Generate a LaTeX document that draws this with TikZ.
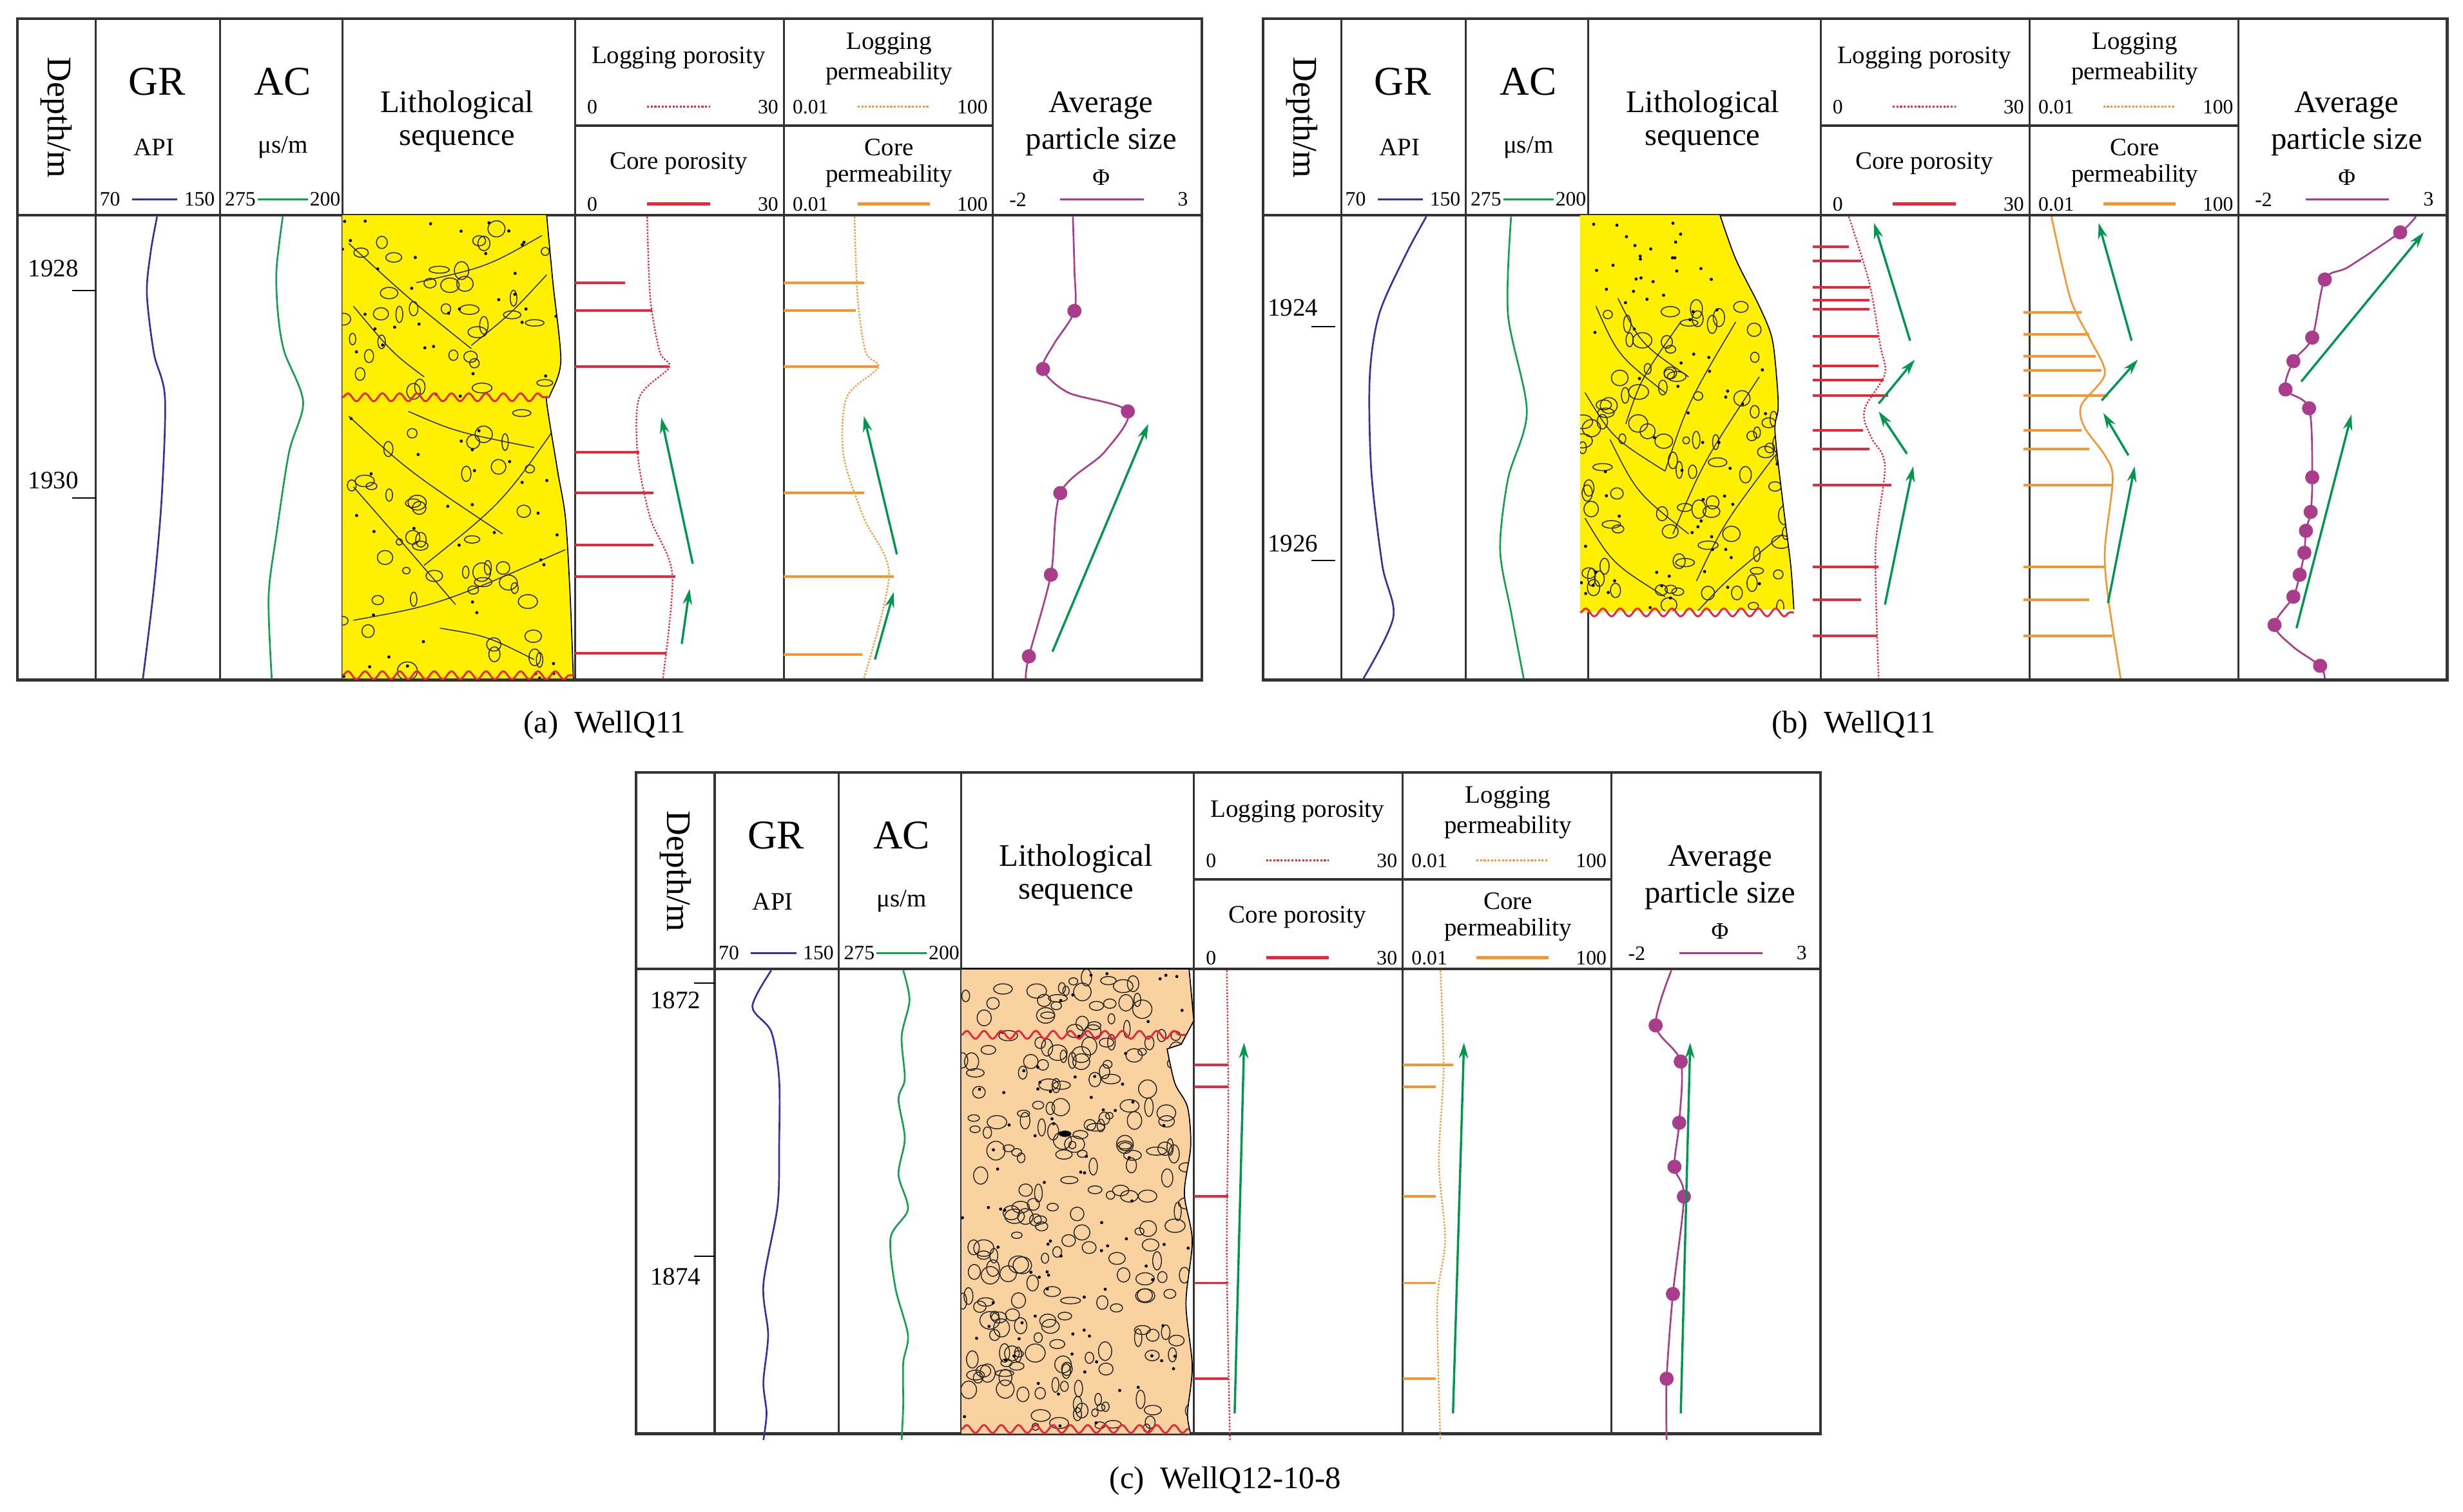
\documentclass[tikz,border=0pt]{standalone}
\usepackage{fontspec}
\setmainfont{Liberation Serif}
\newfontfamily\wellfont{Liberation Serif}
\usetikzlibrary{arrows.meta,decorations.pathmorphing}
\definecolor{grb}{RGB}{50,50,160}
\definecolor{acg}{RGB}{20,160,80}
\definecolor{por}{RGB}{230,40,60}
\definecolor{prm}{RGB}{245,150,50}
\definecolor{pur}{RGB}{170,60,140}
\definecolor{arg}{RGB}{0,150,80}
\definecolor{ylw}{RGB}{255,240,0}
\definecolor{tan}{RGB}{250,210,160}
\newcommand{\fs}[1]{\wellfont\fontsize{#1}{#1}\selectfont}
\newcommand{\wellframe}[2]{%
\begin{scope}[shift={(#1,#2)}]
\draw[line width=1.8pt,black!80] (11,12) rectangle (765,433);
\foreach \x in {61,140,218,366,499,632} \draw[line width=1.3pt,black!80] (\x,12)--(\x,433);
\draw[line width=1.3pt,black!80] (11,137)--(765,137);
\draw[line width=1.3pt,black!80] (366,80)--(632,80);
\node[rotate=-90,font=\fs{22}] at (36,75) {Depth/m};
\node[font=\fs{26}] at (100,52){GR};
\node[font=\fs{16}] at (98,94){API};
\node[font=\fs{13}] at (70,127){70}; \node[font=\fs{13}] at (127,127){150};
\draw[grb,line width=1.3pt] (84,127)--(113,127);
\node[font=\fs{26}] at (180,52){AC}; \node[font=\fs{16}] at (180,94){μs/m};
\node[font=\fs{13}] at (153,127){275}; \node[font=\fs{13}] at (207,127){200};
\draw[acg,line width=1.3pt](164,127)--(196,127);
\node[font=\fs{20}] at (291,67){Lithological};
\node[font=\fs{20}] at (291,90){sequence};
\node[font=\fs{16}] at (432,37){Logging porosity};
\node[font=\fs{13}] at (377,68){0}; \node[font=\fs{13}] at (489,68){30};
\draw[por,densely dotted,line width=1.3pt] (412,68)--(452,68);
\node[font=\fs{16}] at (432,104){Core porosity};
\node[font=\fs{13}] at (377,130){0}; \node[font=\fs{13}] at (489,130){30};
\draw[por,line width=2pt] (412,130)--(452,130);
\node[font=\fs{16}] at (566,28){Logging};
\node[font=\fs{16}] at (566,47){permeability};
\node[font=\fs{13}] at (516,68){0.01}; \node[font=\fs{13}] at (619,68){100};
\draw[prm,densely dotted,line width=1.3pt] (546,68)--(592,68);
\node[font=\fs{16}] at (566,94){Core};
\node[font=\fs{16}] at (566,112){permeability};
\node[font=\fs{13}] at (516,130){0.01}; \node[font=\fs{13}] at (619,130){100};
\draw[prm,line width=2pt] (546,130)--(592,130);
\node[font=\fs{20}] at (701,67){Average};
\node[font=\fs{20}] at (701,90){particle size};
\node[font=\fs{15}] at (701,113){Φ};
\node[font=\fs{13}] at (648,127){-2}; \node[font=\fs{13}] at (753,127){3};
\draw[pur,line width=1.3pt] (675,127)--(728,127);
\end{scope}}
\newcommand{\gravel}[7]{% x0 x1 y0 y1 n seed dots
\pgfmathsetseed{#6}
\foreach \i in {1,...,#5}{
\pgfmathsetmacro\cx{#1+rnd*(#2-#1)}\pgfmathsetmacro\cy{#3+rnd*(#4-#3)}
\pgfmathsetmacro\rx{2+rnd*4.5}\pgfmathsetmacro\ry{2+rnd*4}
\draw[black!85,line width=0.6pt] (\cx,\cy) ellipse[x radius=\rx,y radius=\ry];}
\foreach \i in {1,...,#7}{
\pgfmathsetmacro\cx{#1+rnd*(#2-#1)}\pgfmathsetmacro\cy{#3+rnd*(#4-#3)}
\fill (\cx,\cy) circle (1);}}
\tikzset{arr/.style={arg,line width=1.4pt,-{Stealth[length=10pt,width=6pt]}},
cv/.style={line width=1.1pt},
dot/.style={pur,radius=4.5},
wav/.style={por,line width=1.2pt,decorate,decoration={snake,amplitude=2.5,segment length=11}}}
\begin{document}
\begin{tikzpicture}[x=1pt,y=-1pt]
\useasboundingbox (0,0) rectangle (1568,962.5);
\wellframe{0}{0}
\wellframe{793}{0}
\wellframe{394}{480}
% ---------- panel a
\node[font=\fs{16}] at (34,171){1928}; \draw[line width=0.8pt] (46,185)--(61,185);
\node[font=\fs{16}] at (34,306){1930}; \draw[line width=0.8pt] (46,317)--(61,317);
\draw[grb,cv] plot[smooth] coordinates{(100,138)(96,160)(93.5,187)(98,225)(105,253)(103,316)(98,374)(91,432)};
\draw[acg,cv] plot[smooth] coordinates{(180,138)(176,172)(177,200)(181,224)(193,256)(184,288)(176,340)(171,380)(173,432)};
\begin{scope}
\path[clip] (218,137) -- plot[smooth] coordinates{(348,137)(352,180)(357,230)(350,252)(348,256)(355,300)(360,330)(363,380)(365,432)} -- (218,432) -- cycle;
\fill[ylw] (218,137) rectangle (366,433);
\gravel{218}{365}{140}{432}{85}{11}{70}
\draw[black!85,line width=0.6pt] (222,155) .. controls (260,190) .. (300,222);
\draw[black!85,line width=0.6pt] (265,180) .. controls (310,170) .. (345,150);
\draw[black!85,line width=0.6pt] (225,195) .. controls (250,225) .. (270,240);
\draw[black!85,line width=0.6pt] (300,220) .. controls (325,200) .. (348,175);
\draw[black!85,line width=0.6pt] (222,265) .. controls (260,300) .. (320,340);
\draw[black!85,line width=0.6pt] (260,262) .. controls (290,275) .. (340,285);
\draw[black!85,line width=0.6pt] (225,310) .. controls (260,350) .. (290,385);
\draw[black!85,line width=0.6pt] (270,360) .. controls (320,320) .. (355,270);
\draw[black!85,line width=0.6pt] (225,395) .. controls (280,385) .. (360,350);
\draw[black!85,line width=0.6pt] (280,400) .. controls (310,405) .. (340,420);
\end{scope}
\draw[line width=0.7pt] plot[smooth] coordinates{(348,137)(352,180)(357,230)(350,252)(348,256)(355,300)(360,330)(363,380)(365,432)};
\draw[wav] (218,253)--(350,253);
\draw[wav] (218,430)--(365,430);
\foreach \y/\l in {180/398,197.6/415,233.6/426,288/407,314/416,347/416,367/430,416/424}
  \draw[por,line width=1.6pt] (366,\y)--(\l,\y);
\draw[por,densely dotted,line width=1pt] plot[smooth] coordinates{(412,138)(414,190)(420,224)(426,234)(407,253)(406,290)(414,330)(428,366)(422,432)};
\draw[arr] (441,359)--(421,266);
\draw[arr] (434,410)--(439,375);
\foreach \y/\l in {180/550,197.6/545,233.6/559,314/550,367/569,417/549}
  \draw[prm,line width=1.6pt] (499,\y)--(\l,\y);
\draw[prm,densely dotted,line width=1pt] plot[smooth] coordinates{(544,138)(546,190)(551,224)(559,234)(539,253)(537,290)(550,330)(566,366)(550,432)};
\draw[arr] (571,353)--(550,265);
\draw[arr] (557,420)--(569,377);
\draw[pur,cv] plot[smooth] coordinates{(683,138)(684,172)(684,198)(671,219)(664,235)(680,250)(718,262)(703,288)(675,314)(669,366)(655,418)(653,432)};
\foreach \p in {(684,198),(664,235),(718,262),(675,314),(669,366),(655,418)} \fill[dot] \p circle;
\draw[arr] (670,415)--(731,270);
\node[font=\fs{20}] at (385,462){(a)\ \ WellQ11};
% ---------- panel b
\node[font=\fs{16}] at (823,196){1924}; \draw[line width=0.8pt] (835,208)--(850,208);
\node[font=\fs{16}] at (823,346){1926}; \draw[line width=0.8pt] (835,357)--(850,357);
\draw[grb,cv] plot[smooth] coordinates{(908,138)(895,162)(878,200)(872,240)(873,300)(880,360)(887,393)(868,432)};
\draw[acg,cv] plot[smooth] coordinates{(962,138)(960,200)(972,262)(960,305)(955,350)(962,390)(970,432)};
\begin{scope}
\path[clip] (1006,137) -- plot[smooth] coordinates{(1095,137)(1105,165)(1120,195)(1128,215)(1131,240)(1132,260)(1130,275)(1135,320)(1140,360)(1142,388)} -- (1006,390) -- cycle;
\fill[ylw] (1006,137) rectangle (1145,392);
\gravel{1006}{1142}{195}{388}{95}{23}{55}
\pgfmathsetseed{5}
\foreach \i in {1,...,25}{\pgfmathsetmacro\cx{1010+rnd*80}\pgfmathsetmacro\cy{140+rnd*55}\fill (\cx,\cy) circle (1);}
\foreach \a/\b/\c/\d in {1016/195/1060/250,1030/190/1075/240,1009/250/1060/300,1025/280/1075/340,1009/330/1060/380,1070/205/1035/270,1105/205/1060/300,1120/240/1065/340,1130/290/1080/370,1135/340/1080/390}
  \draw[black!85,line width=0.6pt] (\a,\b) .. controls ({(\a+\c)/2-8},{(\b+\d)/2+4}) .. (\c,\d);
\end{scope}
\draw[line width=0.7pt] plot[smooth] coordinates{(1095,137)(1105,165)(1120,195)(1128,215)(1131,240)(1132,260)(1130,275)(1135,320)(1140,360)(1142,388)};
\draw[wav] (1006,390)--(1142,390);
\foreach \y/\l in {157/1177,166/1185,183/1190,191/1190,197/1190,214/1196,233/1196,242/1199,252/1202,274/1186,286/1190,309/1204,361/1196,382/1185,405/1195}
  \draw[por,line width=1.6pt] (1154,\y)--(\l,\y);
\draw[por,densely dotted,line width=1pt] plot[smooth] coordinates{(1177,138)(1190,180)(1197,220)(1200,238)(1188,258)(1187,268)(1192,280)(1200,297)(1194,350)(1196,432)};
\draw[arr] (1216,217)--(1193,142);
\draw[arr] (1196,257)--(1219,229);
\draw[arr] (1214,289)--(1196,262);
\draw[arr] (1200,385)--(1218,297);
\foreach \y/\l in {199/1325,213/1330,227/1334,236/1338,252/1342,274/1325,286/1330,309/1345,361/1340,382/1330,405/1345}
  \draw[prm,line width=1.6pt] (1288,\y)--(\l,\y);
\draw[prm,line width=1.1pt] plot[smooth] coordinates{(1306,138)(1318,190)(1330,215)(1340,238)(1325,258)(1327,272)(1340,290)(1345,305)(1340,350)(1342,380)(1350,432)};
\draw[arr] (1357,217)--(1336,142);
\draw[arr] (1338,255)--(1361,229);
\draw[arr] (1355,290)--(1339,263);
\draw[arr] (1342,384)--(1359,297);
\draw[pur,cv] plot[smooth] coordinates{(1538,138)(1528,148)(1495,170)(1480,178)(1472,215)(1460,230)(1455,248)(1470,260)(1472,304)(1471,326)(1468,338)(1467,352)(1464,366)(1460,380)(1448,398)(1460,412)(1477,424)(1480,432)};
\foreach \p in {(1528,148),(1480,178),(1472,215),(1460,230),(1455,248),(1470,260),(1472,304),(1471,326),(1468,338),(1467,352),(1464,366),(1460,380),(1448,398),(1477,424)} \fill[dot] \p circle;
\draw[arr] (1465,243)--(1543,148);
\draw[arr] (1462,400)--(1497,264);
\node[font=\fs{20}] at (1180,462){(b)\ \ WellQ11};
% ---------- panel c
\node[font=\fs{16}] at (430,637){1872}; \draw[line width=0.8pt] (442,626)--(455,626);
\node[font=\fs{16}] at (430,813){1874}; \draw[line width=0.8pt] (442,800)--(455,800);
\draw[grb,cv] plot[smooth] coordinates{(491,618)(479,641)(491,657)(496,687)(496,730)(495,768)(486,818)(489,850)(486,880)(488,900)(486,917)};
\draw[acg,cv] plot[smooth] coordinates{(575,618)(579,637)(574,660)(576,687)(572,700)(576,725)(572,748)(578,770)(567,788)(570,820)(578,850)(575,868)(575,895)(574,917)};
\begin{scope}
\path[clip] (612,617) -- (757,617) -- (760,650) -- (752,665) -- plot[smooth] coordinates{(743,668)(748,690)(756,705)(758,730)(754,760)(759,790)(755,830)(759,870)(756,900)(758,913)} -- (612,913) -- cycle;
\fill[tan] (612,617) rectangle (760,914);
\gravel{612}{758}{620}{910}{230}{7}{90}
\fill (678,722) ellipse[x radius=4,y radius=2];
\end{scope}
\draw[line width=0.7pt] (612,617) -- (757,617) -- (760,650) -- (752,665) -- plot[smooth] coordinates{(743,668)(748,690)(756,705)(758,730)(754,760)(759,790)(755,830)(759,870)(756,900)(758,913)};
\draw[wav] (612,659)--(755,659);
\draw[wav] (612,910)--(757,910);
\foreach \y in {678,692,762,817,878} \draw[por,line width=1.6pt] (760,\y)--(782,\y);
\draw[por,densely dotted,line width=1pt] plot[smooth] coordinates{(781,618)(782,700)(781,800)(783,917)};
\draw[arr] (786,900)--(792,664);
\foreach \y/\l in {678/925,692/914,762/914,817/914,878/914} \draw[prm,line width=1.6pt] (893,\y)--(\l,\y);
\draw[prm,densely dotted,line width=1pt] plot[smooth] coordinates{(917,618)(919,680)(916,740)(920,790)(915,830)(917,917)};
\draw[arr] (925,900)--(932,664);
\draw[pur,cv] plot[smooth] coordinates{(1064,618)(1054,653)(1070,676)(1069,715)(1066,743)(1072,762)(1065,824)(1061,878)(1061,917)};
\foreach \p in {(1054,653),(1070,676),(1069,715),(1066,743),(1072,762),(1065,824),(1061,878)} \fill[dot] \p circle;
\draw[arr] (1070,900)--(1076,664);
\node[font=\fs{20}] at (780,943){(c)\ \ WellQ12-10-8};
\end{tikzpicture}
\end{document}
